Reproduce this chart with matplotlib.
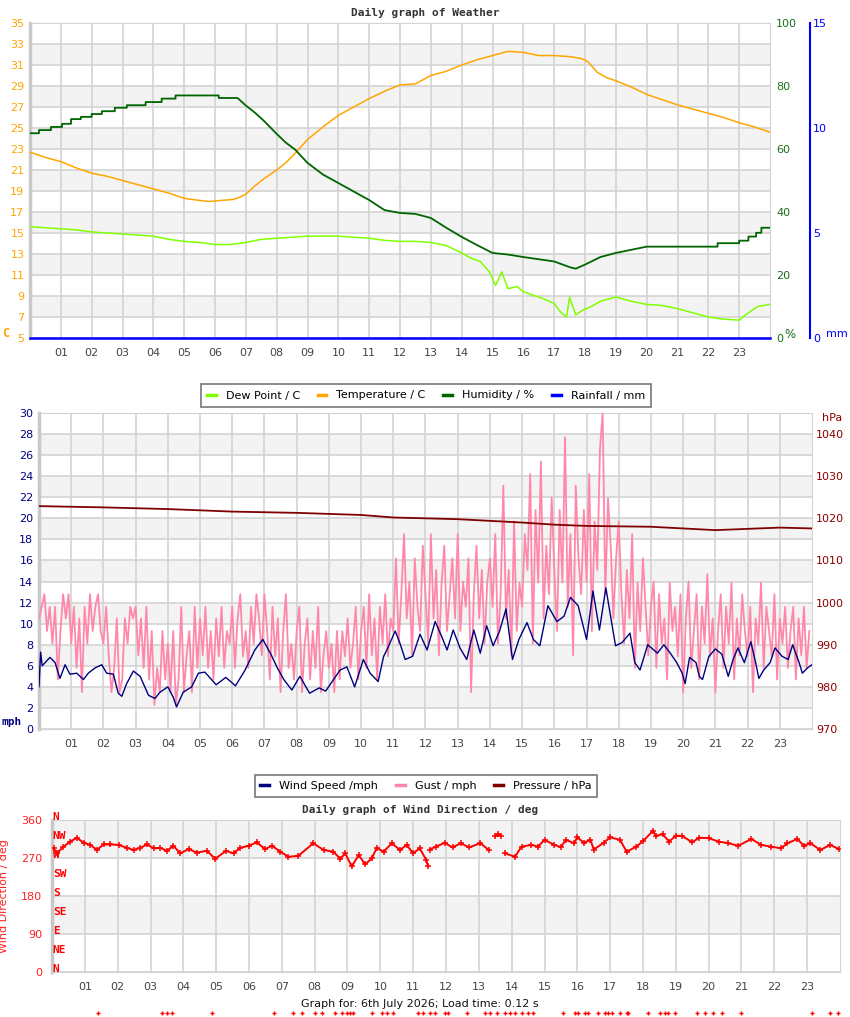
import numpy as np
import matplotlib.pyplot as plt
from matplotlib.lines import Line2D
import matplotlib.transforms as mtransforms

W, H = 850, 1017

# ---- Weather (top chart) ----
temp_hours = [0, 0.5, 1, 1.5, 2, 2.5, 3, 3.5, 4, 4.5, 5, 5.5, 5.8, 6.2, 6.6, 6.8, 7, 7.3, 7.6, 8, 8.3, 8.6,
              9, 9.5, 10, 10.5, 11, 11.5, 12, 12.5, 13, 13.5, 14, 14.5, 15, 15.5, 16, 16.5, 17, 17.5, 17.9,
              18.1, 18.4, 18.7, 19, 19.5, 20, 20.5, 21, 21.5, 22, 22.5, 23, 23.5, 24]
temp_c = [22.7, 22.2, 21.8, 21.2, 20.7, 20.4, 20.0, 19.6, 19.2, 18.8, 18.3, 18.1, 18.0, 18.1, 18.2, 18.4,
          18.7, 19.5, 20.2, 21.0, 21.7, 22.6, 23.9, 25.1, 26.2, 27.0, 27.8, 28.5, 29.1, 29.2, 30.0, 30.4,
          31.0, 31.5, 31.9, 32.3, 32.2, 31.9, 31.9, 31.8, 31.6, 31.3, 30.3, 29.8, 29.5, 28.9, 28.2, 27.7,
          27.2, 26.8, 26.4, 26.0, 25.5, 25.1, 24.6]

dew_hours = [0, 0.5, 1, 1.5, 2, 2.5, 3, 3.5, 4, 4.5, 5, 5.5, 6, 6.5, 7, 7.5, 8, 8.5, 9, 9.5, 10, 10.5, 11,
             11.5, 12, 12.5, 13, 13.5, 14, 14.3, 14.6, 14.9, 15.1, 15.3, 15.5, 15.8, 16, 16.3, 16.6, 17,
             17.2, 17.4, 17.5, 17.7, 17.9, 18.2, 18.5, 19, 19.5, 20, 20.5, 21, 21.5, 22, 22.5, 23, 23.3,
             23.6, 24]
dew_c = [15.6, 15.5, 15.4, 15.3, 15.1, 15.0, 14.9, 14.8, 14.7, 14.4, 14.2, 14.1, 13.9, 13.9, 14.1, 14.4,
         14.5, 14.6, 14.7, 14.7, 14.7, 14.6, 14.5, 14.3, 14.2, 14.2, 14.1, 13.8, 13.1, 12.6, 12.3, 11.3,
         10.0, 11.3, 9.7, 9.9, 9.4, 9.1, 8.8, 8.3, 7.5, 7.0, 8.9, 7.2, 7.6, 8.0, 8.5, 8.9, 8.5, 8.2, 8.1,
         7.8, 7.4, 7.0, 6.8, 6.7, 7.4, 8.0, 8.2]

# humidity changes in 1 % steps; repeated hours mark the edges of a step
hum_hours = [0, 0.29, 0.29, 0.68, 0.68, 1.04, 1.04, 1.33, 1.33, 1.65, 1.65, 2.0, 2.0, 2.33, 2.33, 2.75,
             2.75, 3.14, 3.14, 3.75, 3.75, 4.27, 4.27, 4.72, 4.72, 6.12, 6.12, 6.73,
             7.0, 7.3, 7.6, 8.0, 8.3, 8.6, 9.0, 9.5, 10.0, 10.5, 11.0, 11.5, 12.0, 12.5, 13.0, 13.5,
             14.0, 14.5, 15.0, 15.5, 16.0, 16.5, 17.0, 17.5, 17.7, 18.0, 18.5, 19.0, 19.5, 20.0,
             22.3, 22.3, 23.0, 23.0, 23.3, 23.3, 23.55, 23.55, 23.72, 23.72, 24]
hum_pct = [65.0, 65.0, 66.0, 66.0, 67.0, 67.0, 68.0, 68.0, 69.5, 69.5, 70.2, 70.2, 71.1, 71.1, 72.0, 72.0,
           73.1, 73.1, 73.9, 73.9, 74.9, 74.9, 76.0, 76.0, 77.0, 77.0, 76.2, 76.2,
           73.8, 71.5, 68.8, 64.8, 62.0, 59.8, 55.6, 51.9, 49.2, 46.5, 43.8, 40.6, 39.7, 39.4, 38.1,
           35.0, 32.1, 29.5, 27.0, 26.5, 25.7, 25.0, 24.3, 22.5, 22.0, 23.3, 25.7, 27.0, 28.0, 29.0,
           29.0, 30.1, 30.1, 30.9, 30.9, 32.2, 32.2, 33.4, 33.4, 35.0, 35.0]

rain_hours = [0, 24]
rain_mm = [0, 0]

# ---- Wind (middle chart) ----
wind_hours = [0, 0.05, 0.1, 0.34, 0.5, 0.65, 0.81, 0.96, 1.17, 1.38, 1.53, 1.74, 1.95, 2.1, 2.31, 2.46,
              2.57, 2.72, 2.93, 3.14, 3.4, 3.6, 3.76, 4.0, 4.17, 4.27, 4.48, 4.74, 4.95, 5.15, 5.5, 5.8,
              6.1, 6.4, 6.7, 6.95, 7.2, 7.4, 7.6, 7.85, 8.1, 8.4, 8.7, 8.9, 9.1, 9.35, 9.56, 9.8, 10.07,
              10.28, 10.53, 10.7, 10.8, 11.06, 11.2, 11.37, 11.6, 11.83, 12.05, 12.3, 12.5, 12.67, 12.86,
              13.07, 13.28, 13.5, 13.7, 13.9, 14.1, 14.3, 14.5, 14.7, 14.9, 15.15, 15.35, 15.55, 15.8,
              16.08, 16.3, 16.5, 16.74, 17.0, 17.2, 17.4, 17.6, 17.9, 18.1, 18.35, 18.5, 18.66, 18.9,
              19.2, 19.4, 19.6, 19.8, 19.97, 20.06, 20.2, 20.4, 20.5, 20.6, 20.8, 21.0, 21.2, 21.4, 21.55,
              21.7, 21.9, 22.1, 22.25, 22.35, 22.5, 22.7, 22.85, 23.07, 23.26, 23.4, 23.6, 23.7, 23.86, 24]
wind_mph = [4.0, 7.3, 6.0, 6.8, 6.3, 4.8, 6.1, 5.2, 5.3, 4.7, 5.3, 5.8, 6.1, 5.3, 5.2, 3.4, 3.1, 4.3, 5.5,
            5.0, 3.2, 2.9, 3.5, 4.0, 3.0, 2.1, 3.5, 4.0, 5.3, 5.4, 4.2, 4.9, 4.1, 5.6, 7.5, 8.5, 7.1, 5.8,
            4.7, 3.7, 5.0, 3.4, 3.9, 3.6, 4.5, 5.6, 5.9, 4.0, 6.6, 5.3, 4.5, 6.9, 7.5, 9.3, 8.2, 6.6, 6.9,
            9.0, 7.5, 10.2, 8.8, 7.5, 9.4, 7.7, 6.6, 9.4, 7.2, 9.8, 7.9, 9.3, 11.4, 6.6, 8.5, 10.1, 8.5,
            7.9, 11.7, 10.2, 10.7, 12.5, 11.7, 8.5, 13.1, 9.4, 13.4, 7.9, 8.2, 9.1, 6.3, 5.6, 8.0, 7.2,
            8.0, 7.2, 6.3, 5.3, 4.3, 6.8, 6.3, 5.0, 4.7, 6.9, 7.6, 7.1, 5.0, 6.6, 7.7, 6.3, 8.3, 6.3, 4.8,
            5.6, 6.3, 7.7, 6.9, 6.6, 8.0, 6.3, 5.3, 5.8, 6.1]

# gust readings every 5 minutes (12 per hour)
gust_mph = [
    10.5, 11.6, 12.8, 9.3, 11.6, 8.1, 11.6, 4.7, 9.3, 12.8, 10.5, 12.8,
    8.1, 11.6, 5.8, 10.5, 3.5, 11.6, 8.1, 12.8, 9.3, 11.6, 12.8, 9.3,
    8.1, 11.6, 6.9, 3.5, 5.8, 10.5, 3.5, 4.7, 10.5, 8.1, 11.6, 10.5,
    11.6, 7.0, 10.5, 5.8, 11.6, 4.7, 9.3, 2.3, 5.8, 3.5, 9.3, 4.7,
    8.1, 3.5, 9.3, 2.3, 4.7, 11.6, 3.5, 7.0, 9.3, 3.5, 11.6, 5.8,
    10.5, 7.0, 11.6, 5.8, 9.3, 4.7, 10.5, 6.9, 11.6, 5.8, 9.3, 8.1,
    11.6, 5.8, 10.5, 12.8, 6.9, 9.3, 5.8, 11.6, 8.1, 12.8, 10.5, 7.0,
    12.8, 9.3, 4.7, 11.6, 6.9, 10.5, 3.5, 9.3, 12.8, 5.8, 8.1, 4.7,
    9.3, 11.6, 3.5, 8.1, 10.5, 4.7, 9.3, 5.8, 11.6, 3.5, 7.0, 9.3,
    5.8, 8.1, 3.5, 9.3, 4.7, 9.3, 6.9, 10.5, 5.8, 8.1, 11.6, 4.7,
    9.3, 11.6, 5.8, 12.8, 7.0, 10.5, 4.7, 11.6, 8.1, 12.8, 6.9, 10.5,
    9.3, 16.2, 8.1, 12.8, 18.5, 10.5, 14.0, 7.0, 16.2, 11.6, 9.3, 17.4,
    12.8, 8.1, 18.5, 10.5, 15.1, 7.0, 13.9, 17.4, 9.3, 12.8, 16.2, 10.5,
    18.5, 9.3, 14.0, 11.6, 16.2, 3.5, 12.8, 17.4, 10.5, 15.1, 8.1, 13.9,
    16.2, 11.6, 18.5, 8.1, 12.8, 23.1, 10.5, 15.1, 7.0, 19.7, 9.3, 13.9,
    11.6, 18.5, 15.1, 24.2, 8.1, 20.8, 13.9, 25.4, 10.5, 17.4, 12.8, 22.0,
    15.1, 9.3, 20.8, 13.9, 27.7, 11.6, 18.5, 7.0, 23.1, 16.2, 12.8, 20.8,
    14.0, 24.2, 9.3, 19.7, 15.1, 26.6, 30.0, 12.8, 21.9, 17.4, 10.5, 16.2,
    19.7, 12.8, 8.1, 15.1, 10.5, 18.5, 5.8, 13.9, 9.3, 16.2, 11.6, 7.0,
    11.6, 14.0, 5.8, 12.8, 8.1, 10.5, 4.7, 13.9, 9.3, 11.6, 6.9, 12.8,
    3.5, 10.5, 14.0, 5.8, 9.3, 12.8, 4.7, 11.6, 8.1, 14.7, 6.9, 10.5,
    3.5, 9.3, 12.8, 5.8, 11.6, 8.1, 13.9, 4.7, 10.5, 7.0, 12.8, 9.3,
    6.9, 11.6, 3.5, 10.5, 8.1, 13.9, 5.8, 11.6, 9.3, 6.9, 12.8, 4.7,
    10.5, 8.1, 11.6, 5.8, 9.3, 11.6, 4.7, 10.5, 7.0, 11.6, 5.8, 9.3,
]
gust_hours = np.arange(len(gust_mph)) / 12.0

pres_hours = [0, 2, 4, 6, 8, 10, 11, 12, 13, 14, 15, 16, 17, 18, 19, 20, 21, 22, 23, 24]
pres_hpa = [1022.9, 1022.6, 1022.2, 1021.6, 1021.3, 1020.8, 1020.2, 1020.0, 1019.8, 1019.4, 1019.0,
            1018.5, 1018.2, 1018.1, 1018.0, 1017.6, 1017.2, 1017.5, 1017.8, 1017.6]

# ---- Wind direction (bottom chart) ----
nan = np.nan
wdir_hours = [0.05, 0.15, 0.35, 0.56, 0.76, 0.96, 1.17, 1.37, 1.57, 1.77, 2.03, 2.28, 2.49, 2.69, 2.89,
              3.1, 3.3, 3.5, 3.7, 3.9, 4.16, 4.41, 4.72, 4.97, 5.3, 5.53, 5.73, 5.99, 6.24, 6.49, 6.7,
              6.95, 7.2, 7.5, 7.96, 8.27, 8.57, 8.78, 8.93, 9.13, 9.34, 9.54, 9.74, 9.89, 10.1, 10.35,
              10.6, 10.8, 11.0, 11.2, 11.4, 11.45, 11.47, 11.5, 11.7, 11.96, 12.2, 12.45, 12.7, 13.05,
              13.3, 13.38, 13.5, 13.58, 13.68, 13.72, 13.8, 14.1, 14.3, 14.6, 14.8, 15.0, 15.3, 15.5,
              15.65, 15.9, 16.0, 16.2, 16.4, 16.5, 16.8, 17.0, 17.3, 17.5, 17.8, 18.0, 18.3, 18.4, 18.6,
              18.8, 19.0, 19.2, 19.5, 19.7, 20.0, 20.3, 20.6, 20.9, 21.3, 21.6, 21.9, 22.2, 22.4, 22.7,
              22.9, 23.1, 23.4, 23.7, 23.97]
wdir_deg = [293, 281, 297, 309, 318, 306, 301, 289, 302, 302, 301, 294, 289, 294, 302,
            293, 294, 287, 299, 281, 291, 283, 287, 268, 287, 281, 294, 299, 307, 291, 299,
            285, 273, 275, 305, 289, 285, 268, 281, 250, 277, 255, 269, 294, 285, 305,
            289, 301, 281, 293, 265, 251, nan, 290, 297, 306, 295, 305, 295, 305,
            289, nan, 321, 327, 323, nan, 281, 273, 297, 301, 297, 313, 301, 296,
            313, 305, 319, 306, 313, 290, 306, 319, 313, 285, 297, 310, 334, 323, 326,
            309, 323, 322, 307, 318, 317, 309, 305, 299, 315, 301, 297, 293, 305, 315,
            299, 305, 289, 301, 291]

# readings with no direction (calm), shown on the strip under the chart
calm_hours = [1.41, 3.36, 3.51, 3.66, 4.88, 6.75, 7.35, 7.62, 8.02, 8.23, 8.62, 8.84, 8.99, 9.08, 9.18,
              9.75, 10.05, 10.2, 10.39, 11.15, 11.3, 11.5, 11.67, 11.97, 12.06, 12.64, 13.19, 13.34,
              13.55, 13.8, 13.95, 14.1, 14.3, 14.5, 14.65, 15.57, 15.93, 16.02, 16.23, 16.33, 16.63,
              16.84, 16.93, 17.06, 17.3, 17.51, 17.54, 18.15, 18.52, 18.67, 18.76, 18.97, 19.64, 19.88,
              20.13, 20.4, 21.0, 23.14, 23.7, 23.93]

compass = ['N', 'NE', 'E', 'SE', 'S', 'SW', 'W', 'NW', 'N']
hour_labels = ['%02d' % h for h in range(1, 24)]

GRID = '#d3d3d3'
BAND = '#f3f3f3'
PT = 72 / 100  # points per pixel at 100 dpi


def px_rect(left, top, right, bottom):
    return [left / W, 1 - bottom / H, (right - left) / W, (bottom - top) / H]


def fpos(x, y):
    return x / W, 1 - y / H


def style_axes(ax, lo, hi, step, tick_color, pad):
    ax.set_xlim(0, 24)
    ax.set_ylim(lo, hi)
    edges = np.arange(lo, hi, step)
    for i, e in enumerate(edges):
        if i % 2 == 1:
            ax.axhspan(e, e + step, color=BAND, zorder=0, lw=0)
    ax.set_yticks(np.arange(lo, hi + 0.001, step))
    ax.set_xticks(range(1, 24))
    ax.set_xticklabels(hour_labels)
    ax.grid(True, color=GRID, lw=1.2, zorder=1)
    ax.set_axisbelow(True)
    ax.tick_params(axis='x', length=0, pad=7, labelsize=8, labelcolor='#444444')
    ax.tick_params(axis='y', length=0, pad=pad, labelsize=8, labelcolor=tick_color)
    for s in ['top', 'right', 'bottom']:
        ax.spines[s].set_color(GRID)
    ax.spines['left'].set_color('#c8c8c8')
    ax.spines['left'].set_linewidth(2.5)


fig = plt.figure(figsize=(W / 100, H / 100), dpi=100)
mono = 'DejaVu Sans Mono'

# ---------------- top chart ----------------
ax1 = fig.add_axes(px_rect(30, 23, 770, 338))
style_axes(ax1, 5, 35, 2, '#ffa500', 4)
ax1.plot(temp_hours, temp_c, color='#ffa500', lw=1.1, zorder=3)
ax1.plot(dew_hours, dew_c, color='#7fff00', lw=1.1, zorder=3)

axh = ax1.twinx()
axh.set_ylim(0, 100)
axh.set_yticks(range(0, 101, 20))
axh.tick_params(axis='y', length=0, pad=6 * PT, labelsize=8, labelcolor='#1a6e1a')
for s in axh.spines.values():
    s.set_visible(False)
axh.plot(hum_hours, hum_pct, color='#006400', lw=1.3, zorder=3)

axr = ax1.twinx()
axr.set_ylim(0, 15)
axr.set_yticks([0, 5, 10, 15])
axr.spines['right'].set_position(('outward', 40 * PT))
axr.spines['right'].set_color('#0000ff')
axr.spines['right'].set_linewidth(1.5)
for s in ['top', 'left', 'bottom']:
    axr.spines[s].set_visible(False)
axr.tick_params(axis='y', length=0, pad=2, labelsize=8, labelcolor='#0000ff')
axr.plot(rain_hours, rain_mm, color='#0000ff', lw=1.8, clip_on=False, zorder=4)

fig.text(*fpos(425, 13), 'Daily graph of Weather', family=mono, weight='bold', fontsize=8,
         ha='center', va='center', color='#333333')
fig.text(*fpos(6, 333), 'C', family=mono, weight='bold', fontsize=8.5, color='#ffa500',
         ha='center', va='center')
fig.text(*fpos(790, 334), '%', fontsize=8.5, color='#1a6e1a', ha='center', va='center')
fig.text(*fpos(837, 334), 'mm', fontsize=8, color='#0000ff', ha='center', va='center')

# title of the wind chart, mostly hidden by the legend above it
fig.text(*fpos(425, 401), 'Daily graph of Wind Speed', family=mono, weight='bold', fontsize=8,
         ha='center', va='center', color='#333333', zorder=1)

h1 = [Line2D([], [], color=c, lw=2.5) for c in ['#7fff00', '#ffa500', '#006400', '#0000ff']]
leg1 = fig.legend(h1, ['Dew Point / C', 'Temperature / C', 'Humidity / %', 'Rainfall / mm'],
                  loc='center', bbox_to_anchor=fpos(426, 395.5), ncol=4, fontsize=8,
                  fancybox=False, edgecolor='#777777', framealpha=1, handlelength=0.8,
                  columnspacing=1.6, borderpad=0.55, handletextpad=0.9)
leg1.set_zorder(10)
leg1.get_frame().set_linewidth(1.2)

# ---------------- middle chart ----------------
ax2 = fig.add_axes(px_rect(39, 413, 812, 729))
style_axes(ax2, 0, 30, 2, '#000080', 4)
ax2.plot(gust_hours, gust_mph, color='#ff88aa', lw=1.3, zorder=3)
ax2.plot(wind_hours, wind_mph, color='#000080', lw=1.0, zorder=4)

axp = ax2.twinx()
axp.set_ylim(970, 1045)
axp.set_yticks(range(970, 1041, 10))
axp.tick_params(axis='y', length=0, pad=4 * PT, labelsize=8, labelcolor='#8b0000')
for s in axp.spines.values():
    s.set_visible(False)
axp.plot(pres_hours, pres_hpa, color='#800000', lw=1.3, zorder=3)

fig.text(*fpos(12, 722), 'mph', family=mono, weight='bold', fontsize=8, color='#000080',
         ha='center', va='center')
fig.text(*fpos(832, 418), 'hPa', fontsize=8, color='#8b0000', ha='center', va='center')

h2 = [Line2D([], [], color=c, lw=2.5) for c in ['#000080', '#ff88aa', '#800000']]
leg2 = fig.legend(h2, ['Wind Speed /mph', 'Gust / mph', 'Pressure / hPa'],
                  loc='center', bbox_to_anchor=fpos(426, 786), ncol=3, fontsize=8,
                  fancybox=False, edgecolor='#777777', framealpha=1, handlelength=0.8,
                  columnspacing=1.6, borderpad=0.5, handletextpad=0.9)
leg2.get_frame().set_linewidth(1.2)

# ---------------- bottom chart ----------------
ax3 = fig.add_axes(px_rect(52, 820, 840, 972))
style_axes(ax3, 0, 360, 90, '#ff2020', 7)
ax3.plot(wdir_hours, wdir_deg, color='#ff0000', lw=1.4, marker='+', ms=4, mew=1.1, zorder=3)
ax3.set_ylabel('Wind Direction / deg', color='#ff2020', fontsize=8)
ax3.yaxis.set_label_coords(-(52 - 9) / 788, 0.5)

trans = mtransforms.blended_transform_factory(ax3.transAxes, ax3.transData)
for i, name in enumerate(compass):
    ax3.text(0.001, i * 45 + 6, name, transform=trans, family=mono, weight='bold', fontsize=8,
             color='#ff0000', ha='left', va='center', zorder=5, clip_on=False)

strip = mtransforms.blended_transform_factory(ax3.transData, fig.transFigure)
ax3.plot(calm_hours, [1 - 1013 / H] * len(calm_hours), '+', color='#ff0000', ms=3, mew=1,
         transform=strip, clip_on=False)

fig.text(*fpos(420, 810), 'Daily graph of Wind Direction / deg', family=mono, weight='bold',
         fontsize=8, ha='center', va='center', color='#333333')
fig.text(*fpos(420, 1004), 'Graph for: 6th July 2026; Load time: 0.12 s', fontsize=8,
         ha='center', va='center', color='#111111')

fig.savefig('out.png', dpi=100)
